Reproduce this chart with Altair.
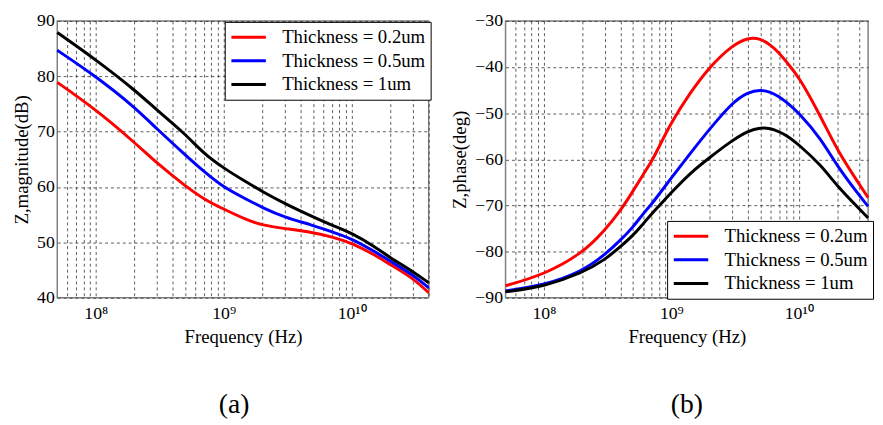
import altair as alt
import pandas as pd

FONT = "Liberation Serif"

series = ["Thickness = 0.2um", "Thickness = 0.5um", "Thickness = 1um"]
colors = ["#ff0000", "#0000ff", "#000000"]

# (a) magnitude in dB
freq_mag = [5e7, 1e8, 2e8, 3e8, 5e8, 7e8, 1e9, 1.5e9, 2e9, 3e9, 5e9, 7e9, 1e10, 1.5e10, 2e10, 3e10, 4e10]
mag_02 = [78.9, 74.0, 68.1, 64.3, 60.2, 57.8, 56.0, 54.1, 53.1, 52.5, 51.8, 51.0, 49.9, 47.8, 46.0, 43.6, 40.9]
mag_05 = [84.7, 80.0, 74.5, 70.5, 65.8, 62.8, 59.9, 57.8, 56.3, 54.5, 53.1, 51.9, 50.7, 48.4, 46.6, 44.2, 41.8]
mag_1 = [87.9, 83.0, 77.6, 73.9, 69.6, 66.0, 63.4, 60.9, 59.2, 57.0, 54.6, 53.1, 51.7, 49.3, 47.2, 44.8, 42.7]

# (b) phase in degrees
freq_ph = [5e7, 1e8, 2e8, 3e8, 4e8, 5e8, 6e8, 7e8, 8e8, 1e9, 1.4e9, 2e9, 3e9, 4e9, 5e9, 6e9,
           7e9, 8e9, 1e10, 1.5e10, 2e10, 3e10, 3.5e10]
ph_02 = [-87.4, -85.0, -80.4, -75.4, -71.1, -66.9, -63.3, -60.5, -57.3, -52.0, -45.6, -39.9, -35.3,
         -33.6, -33.8, -35.2, -36.9, -38.9, -42.0, -50.9, -58.0, -65.5, -68.3]
ph_05 = [-88.5, -87.3, -84.3, -80.7, -77.5, -74.7, -71.8, -69.7, -67.6, -64.0, -58.8, -53.4, -47.7,
         -45.4, -44.9, -45.4, -46.4, -47.6, -49.9, -55.6, -61.5, -67.9, -70.2]
ph_1 = [-88.7, -87.6, -84.6, -81.8, -78.9, -76.5, -74.0, -71.8, -70.1, -67.2, -63.0, -59.6, -55.9,
        -53.8, -53.1, -53.3, -54.0, -54.8, -56.8, -61.3, -65.8, -70.8, -72.7]

x_grid = [6e7, 7e7, 8e7, 9e7,
          1e8, 2e8, 3e8, 4e8, 5e8, 6e8, 7e8, 8e8, 9e8,
          1e9, 2e9, 3e9, 4e9, 5e9, 6e9, 7e9, 8e9, 9e9,
          1e10, 2e10, 3e10, 4e10]
mag_ticks = [40, 50, 60, 70, 80, 90]
ph_ticks = [-90, -80, -70, -60, -50, -40, -30]

LABEL_EXPR = ("datum.value == 1e8 ? '10\u2078' : datum.value == 1e9 ? '10\u2079' : "
              "datum.value == 1e10 ? '10\u00b9\u2070' : ''")


def long_df(freqs, arrays):
    rows = []
    for name, vals in zip(series, arrays):
        for f, v in zip(freqs, vals):
            rows.append({"freq": f, "value": v, "series": name})
    return pd.DataFrame(rows)


df_mag = long_df(freq_mag, [mag_02, mag_05, mag_1])
df_ph = long_df(freq_ph, [ph_02, ph_05, ph_1])


def panel(df, xmax, ytitle, ydomain, yticks, lx, ly, caption, cdx, width):
    grid_vals = [v for v in x_grid if v <= xmax]
    x = alt.X("freq:Q",
              scale=alt.Scale(type="log", domain=[5e7, xmax], nice=False),
              axis=alt.Axis(values=grid_vals, labelExpr=LABEL_EXPR, labelOverlap=False,
                            title="Frequency (Hz)", labelPadding=7, titlePadding=5))
    y = alt.Y("value:Q",
              scale=alt.Scale(domain=ydomain, nice=False, zero=False),
              axis=alt.Axis(values=yticks, title=ytitle, labelPadding=3, titlePadding=5))
    color = alt.Color("series:N",
                      scale=alt.Scale(domain=series, range=colors),
                      legend=alt.Legend(orient="none", legendX=lx, legendY=ly, title=None))
    return (alt.Chart(df)
            .mark_line(strokeWidth=3, interpolate="basis")
            .encode(x=x, y=y, color=color)
            .properties(width=width, height=281,
                        title=alt.TitleParams(caption, orient="bottom", anchor="middle",
                                              frame="group", fontSize=28, font=FONT,
                                              fontWeight="normal", color="black",
                                              offset=46, dx=cdx)))


left = panel(df_mag, 4e10, "Z,magnitude(dB)", [40, 90], mag_ticks, 170, 1, "(a)", -9, 377)
right = panel(df_ph, 3.5e10, "Z,phase(deg)", [-90, -30], ph_ticks, 164, 203, "(b)", 0, 368)

chart = (alt.hconcat(left, right, spacing=78, bounds="flush")
         .resolve_legend(color="independent")
         .properties(padding={"left": 4, "top": 0, "right": 0, "bottom": 0})
         .configure(font=FONT)
         .configure_view(stroke="#808080", strokeWidth=1.5)
         .configure_axis(labelFont=FONT, labelFontSize=18, labelColor="black",
                         titleFont=FONT, titleFontSize=19, titleFontWeight="normal",
                         titleColor="black", ticks=False, domain=False,
                         gridColor="#333333", gridDash=[3, 3], gridWidth=0.8, gridOpacity=1)
         .configure_legend(fillColor="white", strokeColor="black", padding=5,
                           labelFont=FONT, labelFontSize=19, labelColor="black",
                           symbolType="M-2,0H2", symbolStrokeWidth=3, symbolSize=306,
                           symbolOffset=8.75, labelOffset=23.5,
                           rowPadding=3, labelLimit=400, cornerRadius=0, symbolOpacity=1))

chart.save("out.html", embed_options={"renderer": "svg", "actions": False})
